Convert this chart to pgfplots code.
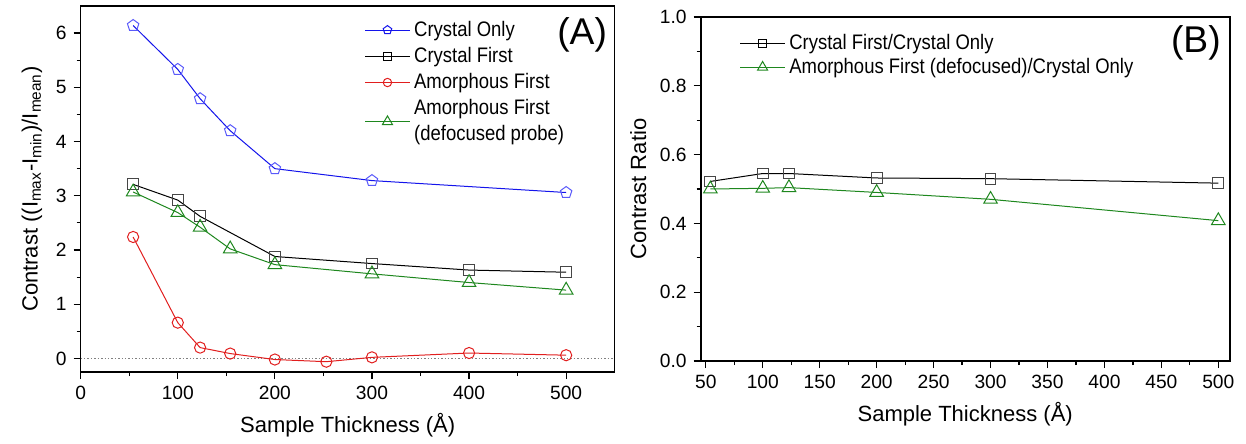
\documentclass[border=0pt]{standalone}
\usepackage{fontspec}
\setmainfont{Liberation Sans}
\newfontfamily\legfont[FakeStretch=0.88]{Liberation Sans}
\usepackage{pgfplots}
\pgfplotsset{compat=1.18}
\usetikzlibrary{plotmarks}

\definecolor{cblue}{RGB}{20,20,235}
\definecolor{cbluem}{RGB}{90,90,250}
\definecolor{cred}{RGB}{225,30,30}
\definecolor{cgreen}{RGB}{30,135,30}
\definecolor{cgray}{RGB}{70,70,70}

\pgfplotsset{
  panel/.style={
    scale only axis,
    tick pos=left,
    tick align=outside,
    major tick length=3.5pt,
    minor tick length=2pt,
    axis line style={line width=0.8pt},
    every tick/.style={black, line width=0.6pt},
    /pgf/number format/assume math mode=true,
    ticklabel style={font=\fontsize{9.6}{11}\selectfont},
    label style={font=\fontsize{11}{13}\selectfont},
    legend style={draw=none, fill=none, font=\legfont\fontsize{10.5}{13}\selectfont,
      cells={anchor=west, align=left}, row sep=0pt},
    legend image code/.code={
      \draw[mark repeat=2,mark phase=2,mark options={scale=0.75}] plot coordinates {(0cm,0cm)(0.39cm,0cm)(0.78cm,0cm)};},
  },
}

\begin{document}
\begin{tikzpicture}
\path (-40.35pt,-33pt) rectangle (582.65pt,186pt);
% ---- (A) contrast vs thickness
\begin{axis}[
  panel, name=axA,
  width=267pt, height=183pt,
  xmin=0, xmax=550, ymin=-0.25, ymax=6.5,
  xtick={0,100,200,300,400,500}, minor x tick num=1,
  ytick={0,1,2,3,4,5,6}, minor y tick num=1,
  xlabel={Sample Thickness (Å)},
  ylabel={Contrast ((I\textsubscript{max}-I\textsubscript{min})/I\textsubscript{mean})},
  legend style={at={(0.52,0.982)}, anchor=north west},
]
\addplot[gray, densely dotted, line width=0.7pt, forget plot] coordinates {(0,0)(550,0)};
\addplot[cblue, line width=0.5pt, mark=pentagon, mark size=3pt, mark options={draw=cbluem, fill=white}] coordinates {
(54,6.14)(100,5.33)(123,4.79)(154,4.20)(200,3.50)(300,3.28)(500,3.06)
};
\addlegendentry{Crystal Only}
\addplot[black, line width=0.5pt, mark=square, mark size=2.7pt, mark options={draw=cgray, fill=white}] coordinates {
(54,3.21)(100,2.92)(123,2.62)(200,1.88)(300,1.75)(400,1.63)(500,1.59)
};
\addlegendentry{Crystal First}
\addplot[cred, line width=0.5pt, mark=o, mark size=2.8pt, mark options={fill=white}] coordinates {
(54,2.24)(100,0.66)(123,0.20)(154,0.09)(200,-0.02)(253,-0.06)(300,0.02)(400,0.10)(500,0.06)
};
\addlegendentry{Amorphous First}
\addplot[cgreen, line width=0.5pt, mark=triangle, mark size=3.9pt, mark options={fill=white}] coordinates {
(54,3.07)(100,2.69)(123,2.42)(154,2.02)(200,1.73)(300,1.56)(400,1.40)(500,1.26)
};
\addlegendentry{Amorphous First\\(defocused probe)}
\node[font=\fontsize{18.6}{20}\selectfont] at (rel axis cs:0.939,0.921) {(A)};
\end{axis}
% ---- (B) contrast ratio
\begin{axis}[
  panel, name=axB,
  at={(310pt,5.5pt)}, anchor=south west,
  width=264.5pt, height=172pt,
  xmin=45.5, xmax=510, ymin=0, ymax=1,
  xtick={50,100,...,500}, minor x tick num=1,
  ytick={0,0.2,0.4,0.6,0.8,1.0}, minor y tick num=1,
  yticklabel style={/pgf/number format/.cd, fixed, fixed zerofill, precision=1},
  xlabel={Sample Thickness (Å)},
  ylabel={Contrast Ratio},
  legend style={at={(0.062,0.975)}, anchor=north west, row sep=-1pt},
]
\addplot[black, line width=0.5pt, mark=square, mark size=2.7pt, mark options={draw=cgray, fill=white}] coordinates {
(54,0.522)(100,0.545)(123,0.545)(200,0.532)(300,0.530)(500,0.517)
};
\addlegendentry{Crystal First/Crystal Only}
\addplot[cgreen, line width=0.5pt, mark=triangle, mark size=3.9pt, mark options={fill=white}] coordinates {
(54,0.500)(100,0.502)(123,0.504)(200,0.490)(300,0.470)(500,0.408)
};
\addlegendentry{Amorphous First (defocused)/Crystal Only}
\node[font=\fontsize{18.6}{20}\selectfont] at (rel axis cs:0.936,0.924) {(B)};
\end{axis}
\end{tikzpicture}
\end{document}
